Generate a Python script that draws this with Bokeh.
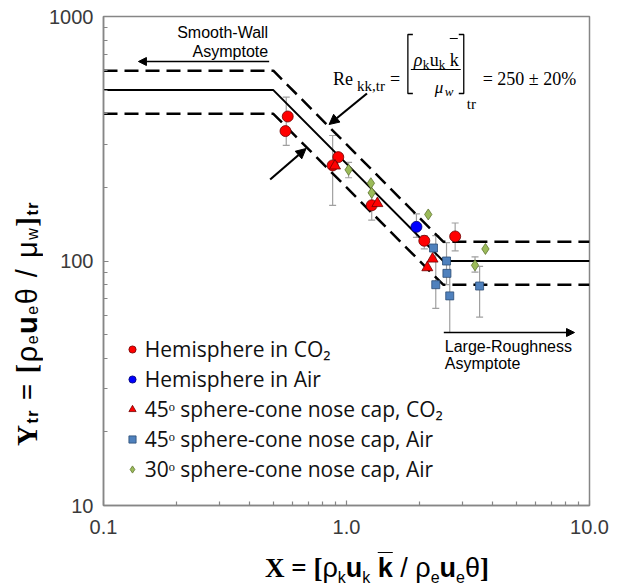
from bokeh.plotting import figure
from bokeh.layouts import row, column
from bokeh.models import (FixedTicker, Label, Arrow, NormalHead, Whisker, Div,
                          ColumnDataSource, Legend, LegendItem, TeeHead)
from bokeh.embed import file_html
from bokeh.resources import INLINE

# ---------------- data ----------------
hemi_co2_x = [0.573, 0.561, 0.925, 0.877, 1.27, 2.09, 2.80]
hemi_co2_y = [390, 340, 266, 246, 169, 121, 126]
hemi_air_x = [1.94]
hemi_air_y = [138]
cone45_co2_x = [0.897, 1.34, 2.26, 2.15]
cone45_co2_y = [245, 172, 102, 94]
cone45_air_x = [2.28, 2.58, 2.59, 2.33, 2.66, 3.53]
cone45_air_y = [113, 100, 89, 80, 72, 79]
cone30_air_x = [1.02, 1.26, 1.27, 2.17, 3.73, 3.38]
cone30_air_y = [236, 208, 190, 155, 112, 96]

err_x = [0.565, 0.877, 1.02, 1.27, 1.94, 2.09, 2.80, 2.33, 2.58, 2.66, 3.38, 3.53]
err_lo = [297, 169, 219, 147, 125, 112, 110, 64, 80, 51, 90, 59]
err_hi = [468, 326, 253, 190, 156, 127, 143, 127, 119, 100, 104, 95]

# correlation Re_kk,tr = 250 +/- 20 %, with smooth-wall and large-roughness asymptotes
model_x = [0.1, 0.5, 2.5, 10.0]
model_y = [500, 500, 100, 100]
upper_y = [600, 600, 120, 120]
lower_y = [400, 400, 80, 80]

x_ticks = [0.1, 1.0, 10.0]
x_tick_labels = ["0.1", "1.0", "10.0"]
y_ticks = [10, 100, 1000]
y_tick_labels = ["10", "100", "1000"]

legend_labels = ["Hemisphere in CO\u2082", "Hemisphere in Air",
                 "45\u1d52 sphere-cone nose cap, CO\u2082",
                 "45\u1d52 sphere-cone nose cap, Air",
                 "30\u1d52 sphere-cone nose cap, Air"]

# ---------------- page geometry ----------------
PW, PH = 618, 586          # page (window) size
YW = 46                    # width of the y-title strip
XH = 34                    # height of the x-title strip
W, H = PW - YW, PH - XH    # figure size
FL, FR, FT, FB = 102, 589, 16, 505   # frame edges in page pixels


def dx(px):
    return 10 ** (-1 + 2 * (px - FL) / (FR - FL))


def dy(py):
    return 10 ** (3 - 2 * (py - FT) / (FB - FT))


p = figure(width=W, height=H, x_axis_type="log", y_axis_type="log",
           x_range=(0.1, 10), y_range=(10, 1000),
           output_backend="svg", toolbar_location=None,
           min_border_left=FL - YW, min_border_right=W - (FR - YW),
           min_border_top=FT, min_border_bottom=H - FB)
p.xgrid.visible = False
p.ygrid.visible = False
p.outline_line_color = "#868686"
p.outline_line_width = 1.5
p.background_fill_color = "white"
p.border_fill_color = "white"

minor_x = [k * 10 ** d for d in (-1, 0) for k in range(2, 10)]
minor_y = [k * 10 ** d for d in (1, 2) for k in range(2, 10)]
p.xaxis.ticker = FixedTicker(ticks=x_ticks, minor_ticks=minor_x)
p.yaxis.ticker = FixedTicker(ticks=y_ticks, minor_ticks=minor_y)
p.xaxis.major_label_overrides = dict(zip(x_ticks, x_tick_labels))
p.yaxis.major_label_overrides = dict(zip(y_ticks, y_tick_labels))
for ax in (p.xaxis[0], p.yaxis[0]):
    ax.axis_line_color = "#868686"
    ax.axis_line_width = 1.5
    ax.major_tick_line_color = "#868686"
    ax.minor_tick_line_color = "#868686"
    ax.major_tick_line_width = 1.2
    ax.minor_tick_line_width = 1.2
    ax.major_tick_in = 5
    ax.major_tick_out = 0
    ax.minor_tick_in = 4
    ax.minor_tick_out = 0
    ax.major_label_text_font = "Liberation Sans"
    ax.major_label_text_font_size = "20px"
    ax.major_label_text_color = "#3a3a3a"
p.yaxis.major_label_standoff = 10
p.xaxis.major_label_standoff = 14

# ---------------- model lines ----------------
p.line(model_x, upper_y, line_color="black", line_width=2.5, line_dash="14 7")
p.line(model_x, lower_y, line_color="black", line_width=2.5, line_dash="14 7")
p.line(model_x, model_y, line_color="black", line_width=2)

# ---------------- error bars ----------------
src = ColumnDataSource(dict(x=err_x, lo=err_lo, hi=err_hi))
wk = Whisker(source=src, base="x", lower="lo", upper="hi", dimension="height",
             line_color="#a0a0a0", line_width=1.2, level="underlay",
             upper_head=TeeHead(size=7, line_color="#a0a0a0", line_width=1.2),
             lower_head=TeeHead(size=7, line_color="#a0a0a0", line_width=1.2))
p.add_layout(wk)

# ---------------- data markers ----------------
r1 = p.scatter(hemi_co2_x, hemi_co2_y, marker="circle", size=11,
               fill_color="#ff0000", line_color="#6e0000", line_width=0.8)
r2 = p.scatter(hemi_air_x, hemi_air_y, marker="circle", size=11,
               fill_color="#0000ff", line_color="#00006e", line_width=0.8)
r3 = p.scatter(cone45_co2_x, cone45_co2_y, marker="triangle", size=11,
               fill_color="#ff0000", line_color="#6e0000", line_width=0.8)
r4 = p.scatter(cone45_air_x, cone45_air_y, marker="square", size=8,
               fill_color="#4f81bd", line_color="#2c4d75", line_width=0.8)
r5 = p.scatter(cone30_air_x, cone30_air_y, marker="diamond", size=11,
               fill_color="#9bbb59", line_color="#5f7530", line_width=0.8)

legend = Legend(items=[LegendItem(label=l, renderers=[r]) for l, r in
                       zip(legend_labels, [r1, r2, r3, r4, r5])],
                location=(19.7, 22), padding=5, margin=0, spacing=2,
                glyph_width=18, glyph_height=18, label_height=18,
                label_standoff=4, border_line_color=None,
                background_fill_alpha=0,
                label_text_font="Open Sans", label_text_font_size="21px",
                label_text_color="#111111")
p.add_layout(legend)

# ---------------- annotations inside the frame ----------------
def lab(px, py, text, size, font="Liberation Sans", style="normal",
        align="left", baseline="alphabetic"):
    p.add_layout(Label(x=dx(px), y=dy(py), text=text, text_font=font,
                       text_font_size=f"{size}px", text_font_style=style,
                       text_align=align, text_baseline=baseline,
                       text_color="black"))


def seg(points, width=1.3):
    p.line([dx(a) for a, b in points], [dy(b) for a, b in points],
           line_color="black", line_width=width)


# Smooth-wall asymptote
lab(267, 32, "Smooth-Wall", 16, align="right", baseline="middle")
lab(267, 51, "Asymptote", 16, align="right", baseline="middle")
p.add_layout(Arrow(end=NormalHead(size=8, fill_color="black", line_color="black"),
                   x_start=dx(268), y_start=dy(61), x_end=dx(137), y_end=dy(61),
                   line_width=1.3, line_color="black"))

# Large-roughness asymptote
lab(444, 346, "Large-Roughness", 16, baseline="middle")
lab(444, 363, "Asymptote", 16, baseline="middle")
p.add_layout(Arrow(end=NormalHead(size=8, fill_color="black", line_color="black"),
                   x_start=dx(443), y_start=dy(332), x_end=dx(574), y_end=dy(332),
                   line_width=1.3, line_color="black"))

# arrows to the transition band
p.add_layout(Arrow(end=NormalHead(size=10, fill_color="black", line_color="black"),
                   x_start=dx(366), y_start=dy(93), x_end=dx(328), y_end=dy(124),
                   line_width=2.2, line_color="black"))
p.add_layout(Arrow(end=NormalHead(size=10, fill_color="black", line_color="black"),
                   x_start=dx(269), y_start=dy(179), x_end=dx(305), y_end=dy(148),
                   line_width=2.2, line_color="black"))

# equation  Re_kk,tr = [rho_k u_k kbar / mu_w]_tr = 250 +/- 20%
SER = "Liberation Serif"
lab(332, 78, "Re", 18, font=SER)
lab(356, 85, "kk,tr", 15, font=SER)
lab(389, 78, "=", 18, font=SER)
lab(413, 59, "\u03c1", 18, font=SER, style="italic")
lab(422, 64, "k", 13, font=SER)
lab(429, 59, "u", 18, font=SER)
lab(438, 64, "k", 13, font=SER)
lab(449, 59, "k", 18, font=SER)
lab(434, 87, "\u03bc", 17, font=SER, style="italic")
lab(444, 91, "w", 13, font=SER, style="italic")
lab(466, 103, "tr", 15, font=SER)
lab(482, 78, "= 250 \u00b1 20%", 18, font=SER)
seg([(412, 34), (407, 34), (407, 93), (412, 93)])
seg([(458, 34), (463, 34), (463, 93), (458, 93)])
seg([(410, 69), (460, 69)], 1.0)
seg([(449, 38), (457, 38)], 1.0)

# ---------------- axis titles (HTML text with subscripts) ----------------
SB = "font-family:'Liberation Serif';font-weight:bold"


def sub(t, bold=False):
    w = "bold" if bold else "normal"
    return (f"<sub style=\"font-size:16px;vertical-align:-6px;line-height:0;"
            f"font-weight:{w}\">{t}</sub>")


y_html = (f"<span style=\"{SB}\">Y</span>{sub('tr', True)}"
          f"<span style=\"{SB}\"> = [</span>\u03c1{sub('e')}<b>u</b>{sub('e')}"
          f"\u03b8 / \u03bc{sub('w')}<span style=\"{SB}\">]</span>{sub('tr', True)}")
x_html = (f"<span style=\"{SB}\">X = [</span>\u03c1{sub('k')}<b>u</b>{sub('k')} "
          f"<b style=\"text-decoration:overline\">k</b> / \u03c1{sub('e')}<b>u</b>"
          f"{sub('e')}\u03b8<span style=\"{SB}\">]</span>")

ydiv = Div(width=YW, height=H, margin=0, text=(
    f"<div style=\"position:relative;width:{YW}px;height:{H}px;overflow:hidden;\">"
    f"<div style=\"position:absolute;left:12px;bottom:{H - 446}px;"
    f"writing-mode:vertical-rl;transform:rotate(180deg);white-space:nowrap;"
    f"font-family:'Liberation Sans';font-size:29px;letter-spacing:1.5px;"
    f"line-height:30px;color:black;\">"
    f"{y_html}</div></div>"))
xdiv = Div(width=PW, height=XH, margin=0, text=(
    f"<div style=\"position:relative;width:{PW}px;height:{XH}px;overflow:hidden;\">"
    f"<div style=\"position:absolute;left:265px;top:1px;white-space:nowrap;"
    f"font-family:'Liberation Sans';font-size:27px;line-height:30px;color:black;\">"
    f"{x_html}</div></div>"))

layout = column(row(ydiv, p, spacing=0), xdiv, spacing=0)
open("out.html", "w").write(file_html(layout, INLINE))
